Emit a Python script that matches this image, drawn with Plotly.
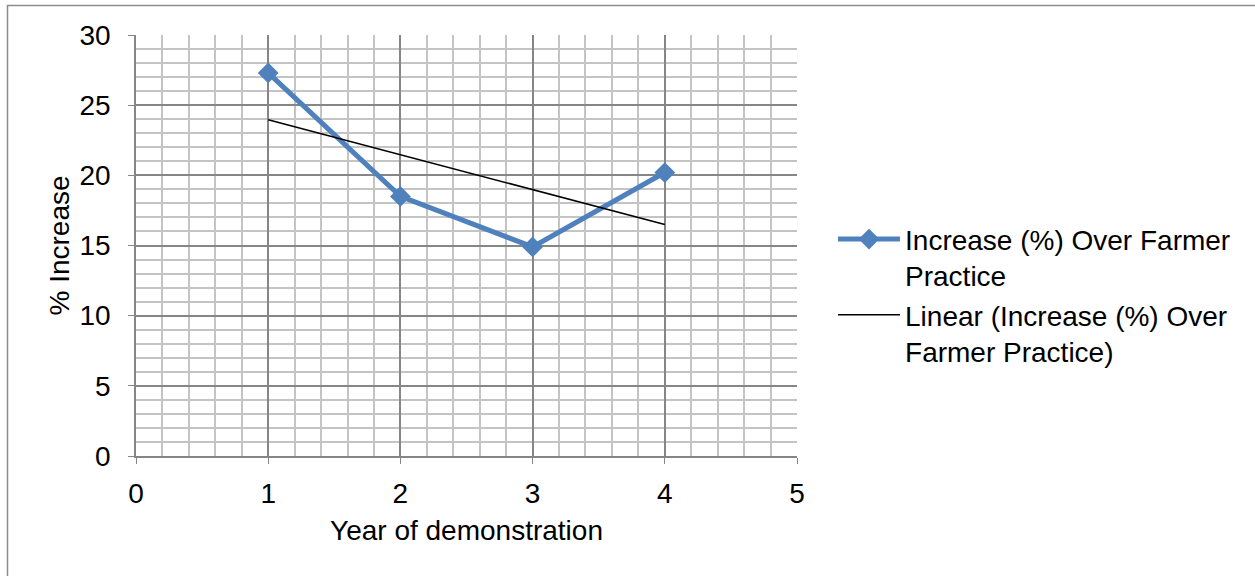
import numpy as np
import plotly.graph_objects as go

years = [1, 2, 3, 4]
increase = [27.3, 18.5, 14.9, 20.2]
series_name = "Increase (%) Over Farmer<br>Practice"
trend_name = "Linear (Increase (%) Over<br>Farmer Practice)"

# Linear trendline (least squares, as in the spreadsheet)
slope, intercept = np.polyfit(years, increase, 1)
trend_x = [years[0], years[-1]]
trend_y = [slope * x + intercept for x in trend_x]

FONT = "Liberation Sans, Arial, sans-serif"
MAJOR = "#868686"
MINOR = "#C4C4C4"
FS = 28

fig = go.Figure()
fig.add_trace(go.Scatter(
    x=years, y=increase, mode="lines+markers", name=series_name,
    line=dict(color="#4F81BD", width=5),
    marker=dict(symbol="diamond", size=16, color="#4F81BD"),
))
fig.add_trace(go.Scatter(
    x=trend_x, y=trend_y, mode="lines", name=trend_name,
    line=dict(color="black", width=1.5),
))

fig.update_layout(
    width=1255, height=576,
    margin=dict(l=136, r=458, t=35, b=120),
    paper_bgcolor="white", plot_bgcolor="white",
    font=dict(family=FONT, size=FS, color="black"),
    legend=dict(
        x=1.0545, y=0.574, xanchor="left", yanchor="top",
        font=dict(size=FS), tracegroupgap=0, itemwidth=62,
        valign="top", bgcolor="rgba(0,0,0,0)",
    ),
    xaxis=dict(
        range=[0, 5], dtick=1, tick0=0,
        showgrid=True, gridcolor=MAJOR, gridwidth=1.5,
        minor=dict(dtick=0.2, showgrid=True, gridcolor=MINOR, gridwidth=2),
        showline=True, linecolor=MAJOR, linewidth=1.5,
        ticks="outside", ticklen=6, tickcolor=MAJOR,
        ticklabelstandoff=6, zeroline=False,
        title=dict(text="Year of demonstration", standoff=12, font=dict(size=FS)),
    ),
    yaxis=dict(
        range=[0, 30], dtick=5, tick0=0,
        showgrid=True, gridcolor=MAJOR, gridwidth=1.5,
        minor=dict(dtick=1, showgrid=True, gridcolor=MINOR, gridwidth=2),
        showline=True, linecolor=MAJOR, linewidth=1.5,
        ticks="outside", ticklen=6, tickcolor=MAJOR,
        ticklabelstandoff=12, zeroline=False,
        title=dict(text="% Increase", standoff=2, font=dict(size=FS)),
    ),
    shapes=[dict(
        type="rect", xref="paper", yref="paper",
        x0=-0.1944, x1=1.72, y0=-0.32, y1=1.070,
        line=dict(color="#8C8C8C", width=1.5), layer="below",
    )],
)

fig.write_html("out.html", config={"displayModeBar": False},
               post_script="document.body.style.margin='0px';")
